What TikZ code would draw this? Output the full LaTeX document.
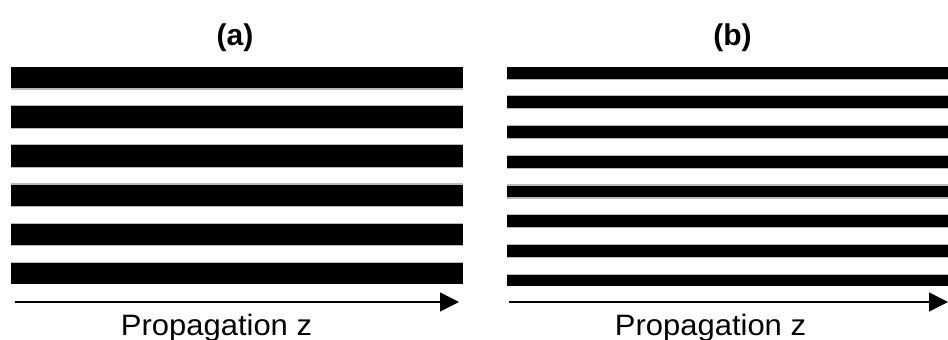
\documentclass[tikz,border=0pt]{standalone}
\usepackage{fontspec}
\setmainfont{Liberation Sans}
\usetikzlibrary{arrows.meta}
\tikzset{
  stripe/.style={fill=black},
  stripeedge/.style={draw=gray!55, line width=1.1pt},
  axis/.style={line width=1.4pt, -{Triangle[length=19pt,width=19pt]}},
  title/.style={font=\fontsize{30}{36}\selectfont\bfseries, inner sep=0pt},
  axlabel/.style={font=\fontsize{29.5}{35}\selectfont, inner sep=0pt, anchor=base, xscale=1.05},
}
\begin{document}
\begin{tikzpicture}[x=1pt,y=-1pt]
\useasboundingbox (0,0) rectangle (948,340);
% panel (a)
\foreach \i in {0,...,5}{
  \pgfmathsetmacro{\t}{67+\i*39.15}
  \pgfmathsetmacro{\b}{\t+21.5}
  \fill[stripe] (11,\t) rectangle (463,\b);
  \ifnum\i>0 \draw[stripeedge] (11,\t-0.5) -- (463,\t-0.5);\fi
  \ifnum\i<5 \draw[stripeedge] (11,\b+0.5) -- (463,\b+0.5);\fi
}
% panel (b)
\begin{scope}
\clip (507,66) rectangle (948,285);
\foreach \i in {0,...,7}{
  \pgfmathsetmacro{\t}{66.7+\i*29.7}
  \pgfmathsetmacro{\b}{\t+12}
  \fill[stripe] (507,\t) rectangle (948,\b);
  \ifnum\i>0 \draw[stripeedge] (507,\t-0.5) -- (948,\t-0.5);\fi
  \draw[stripeedge] (507,\b+0.5) -- (948,\b+0.5);
}
\end{scope}
% titles
\node[title] (ta) at (235,38) {(a)};
\node[title] (tb) at (732.5,38) {(b)};
% arrows
\coordinate (a0) at (15,302);
\coordinate (a1) at (459,302);
\coordinate (b0) at (509,302);
\coordinate (b1) at (948,302);
\draw[axis] (a0) -- (a1);
\draw[axis] (b0) -- (b1);
% labels
\node[axlabel] (la) at (216.5,335) {Propagation z};
\node[axlabel] (lb) at (710.5,335) {Propagation z};
\end{tikzpicture}
\end{document}
